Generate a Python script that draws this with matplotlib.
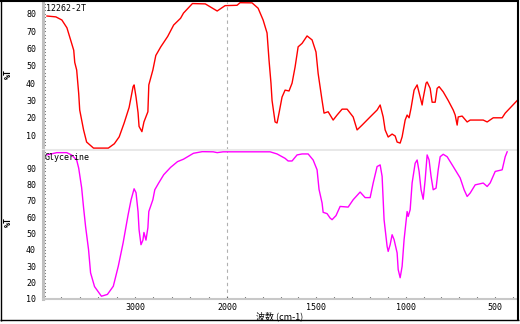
import numpy as np
import matplotlib
matplotlib.use("Agg")
import matplotlib.pyplot as plt
from matplotlib.lines import Line2D
from matplotlib.ticker import FixedLocator, MultipleLocator

# ---- data (wavenumber cm-1, %T) ----
top_label = "12262-2T"
top_wn = [3957, 3860, 3795, 3740, 3700, 3666, 3655, 3634, 3612, 3601, 3559, 3526, 3451, 3365,
          3290, 3225, 3172, 3118, 3064, 3021, 3010, 2989, 2967, 2956, 2925, 2903, 2860, 2850,
          2806, 2774, 2720, 2645, 2580, 2505, 2473, 2376, 2236, 2107, 2021, 1944, 1927, 1860,
          1826, 1798, 1776, 1765, 1754, 1748, 1731, 1720, 1709, 1692, 1675, 1653, 1636, 1619,
          1602, 1580, 1552, 1524, 1502, 1490, 1468, 1457, 1434, 1406, 1384, 1356, 1328, 1294,
          1272, 1244, 1199, 1160, 1143, 1126, 1115, 1098, 1076, 1059, 1048, 1031, 1020, 1003,
          992, 981, 970, 953, 936, 919, 908, 902, 886, 880, 863, 852, 835, 824, 813, 790, 762,
          734, 723, 712, 706, 684, 656, 639, 566, 544, 510, 460, 443, 376]
top_t = [78.8, 78.3, 76.5, 72.0, 65.0, 59.0, 52.0, 47.6, 34.0, 24.5, 13.0, 6.0, 2.5, 2.5,
         2.5, 5.0, 9.0, 17.0, 26.0, 38.0, 39.0, 32.0, 23.0, 15.0, 12.0, 17.6, 23.5, 39.0,
         47.6, 56.0, 61.0, 67.0, 73.6, 77.5, 80.5, 86.0, 85.8, 81.7, 84.8, 85.0, 86.5, 86.4,
         83.3, 76.5, 69.0, 53.4, 40.0, 30.0, 17.6, 17.0, 22.7, 32.0, 36.0, 35.5, 40.0, 49.4,
         61.0, 63.0, 67.3, 65.0, 58.0, 45.6, 30.0, 22.7, 23.5, 18.7, 21.6, 25.0, 25.0, 20.5,
         13.0, 15.8, 20.5, 24.5, 27.4, 20.5, 13.0, 8.9, 10.6, 9.5, 6.0, 5.4, 9.0, 18.7,
         21.6, 20.0, 25.6, 36.0, 39.0, 32.0, 27.4, 31.4, 40.0, 40.7, 37.0, 29.0, 29.0, 37.0,
         38.0, 35.0, 30.0, 24.5, 21.6, 15.8, 20.5, 21.0, 17.6, 18.7, 18.7, 17.6, 20.0, 20.0,
         22.7, 30.0]

bot_label = "Glycerine"
bot_wn = [3957, 3849, 3742, 3688, 3634, 3612, 3580, 3559, 3537, 3505, 3483, 3440, 3365, 3300,
          3236, 3182, 3129, 3075, 3043, 3010, 2989, 2967, 2956, 2935, 2914, 2903, 2881, 2860,
          2850, 2806, 2785, 2742, 2688, 2613, 2538, 2473, 2365, 2269, 2150, 2107, 2043, 1759,
          1720, 1675, 1658, 1636, 1608, 1580, 1546, 1518, 1496, 1485, 1468, 1462, 1440, 1423,
          1412, 1390, 1367, 1322, 1294, 1255, 1227, 1199, 1182, 1160, 1143, 1132, 1121, 1104,
          1098, 1087, 1076, 1065, 1048, 1042, 1031, 1020, 1009, 992, 986, 975, 964, 947, 936,
          925, 914, 902, 891, 880, 869, 858, 846, 830, 818, 807, 790, 768, 734, 695, 673, 656,
          639, 611, 566, 544, 527, 499, 460, 443, 432]
bot_t = [98.1, 99.5, 99.5, 98.0, 95.0, 90.0, 78.0, 65.8, 54.2, 40.2, 26.0, 17.6, 11.7, 12.8,
         17.8, 30.0, 44.4, 61.5, 70.6, 77.4, 75.0, 63.4, 52.4, 43.2, 46.0, 50.7, 46.0, 53.6,
         63.5, 70.7, 76.8, 81.0, 86.0, 90.5, 94.0, 95.5, 99.1, 100.1, 100.0, 99.5, 100.0, 100.0,
         98.7, 96.0, 94.4, 94.4, 98.1, 98.7, 98.7, 95.0, 89.0, 77.0, 68.7, 63.0, 62.2, 59.5,
         58.5, 61.0, 66.6, 66.2, 70.7, 75.4, 72.0, 72.0, 80.9, 91.0, 92.0, 85.0, 58.5, 42.2,
         39.1, 43.2, 49.3, 46.3, 38.2, 28.0, 23.0, 30.0, 46.3, 63.5, 60.5, 64.6, 81.0, 93.0, 95.0,
         88.0, 76.8, 71.0, 82.9, 98.1, 95.0, 85.0, 76.8, 77.8, 89.0, 97.0, 98.5, 97.0, 91.0, 84.0,
         76.8, 72.7, 74.8, 79.8, 80.9, 78.8, 81.0, 88.0, 89.0, 97.0, 100.0]

x_ticks = [3000, 2000, 1500, 1000, 500]
top_yticks = [10, 20, 30, 40, 50, 60, 70, 80]
bot_yticks = [10, 20, 30, 40, 50, 60, 70, 80, 90]
x_label = "波数 (cm-1)"
y_label = "%T"

# ---- split-scale wavenumber axis (4000-2000 compressed) ----
R = 0.515
def fwd(w):
    w = np.asarray(w, dtype=float)
    return np.where(w <= 2000, w, 2000 + (w - 2000) * R)
def inv(v):
    v = np.asarray(v, dtype=float)
    return np.where(v <= 2000, v, 2000 + (v - 2000) / R)

W, H = 520, 324
fig = plt.figure(figsize=(W / 100, H / 100), dpi=100)
fig.patch.set_facecolor("white")

def fx(px):
    return px / W
def fy(py):
    return 1 - py / H

L, Rr = 43, 517
ax1 = fig.add_axes([fx(L), fy(150), fx(Rr) - fx(L), fy(2) - fy(150)])
ax2 = fig.add_axes([fx(L), fy(299), fx(Rr) - fx(L), fy(151) - fy(299)])

mono = "DejaVu Sans Mono"
for ax in (ax1, ax2):
    ax.set_xscale("function", functions=(fwd, inv))
    ax.set_xlim(4000, 377)
    ax.spines["top"].set_visible(False)
    ax.spines["right"].set_visible(False)
    ax.spines["left"].set_color("#c0c0c0")
    ax.spines["left"].set_linewidth(2.2)
    ax.axvline(2000, color="#b0b0b0", lw=0.8, ls=(0, (3, 3)), zorder=1)
    ax.yaxis.set_minor_locator(MultipleLocator(2))
    ax.tick_params(axis="y", which="both", direction="in", length=1.5, width=0.8,
                   color="black", labelsize=6, pad=5)
    for lab in ax.get_yticklabels():
        lab.set_fontfamily(mono)

ax1.plot(top_wn, top_t, color="#ff0000", lw=1.0, zorder=3)
ax1.set_ylim(1.4, 86.9)
ax1.set_yticks(top_yticks)
ax1.spines["bottom"].set_color("#e8e8e8")
ax1.spines["bottom"].set_linewidth(2.2)
ax1.tick_params(axis="x", which="both", bottom=False, labelbottom=False)
ax1.text(0.006, 0.985, top_label, transform=ax1.transAxes, ha="left", va="top",
         fontsize=6, family=mono)

ax2.plot(bot_wn, bot_t, color="#ff00ff", lw=1.0, zorder=3)
ax2.set_ylim(10, 100.5)
ax2.set_yticks(bot_yticks)
ax2.spines["bottom"].set_color("#c8c8c8")
ax2.spines["bottom"].set_linewidth(1.5)
ax2.xaxis.set_major_locator(FixedLocator(x_ticks))
ax2.xaxis.set_minor_locator(FixedLocator(list(range(3800, 2000, -200)) + list(range(1900, 399, -100))))
ax2.tick_params(axis="x", which="both", direction="in", length=1.5, width=0.8,
                color="black", labelsize=6, pad=3)
ax2.set_xticklabels([str(v) for v in x_ticks], family=mono)
ax2.text(0.004, 0.985, bot_label, transform=ax2.transAxes, ha="left", va="top",
         fontsize=6, family=mono)

for ax in (ax1, ax2):
    for lab in ax.get_yticklabels():
        lab.set_fontfamily(mono)

# axis titles
fig.text(fx(280), fy(316), x_label, ha="center", va="center", fontsize=6.5,
         family=["Noto Sans CJK SC", "DejaVu Sans"])
fig.text(fx(8), fy(74), y_label, ha="center", va="center", rotation=90, fontsize=6,
         family=mono, weight="bold")
fig.text(fx(8), fy(222), y_label, ha="center", va="center", rotation=90, fontsize=6,
         family=mono, weight="bold")

# outer black frame
def fl(x0, y0, x1, y1, lw):
    fig.add_artist(Line2D([fx(x0), fx(x1)], [fy(y0), fy(y1)], color="black", lw=lw,
                          solid_capstyle="butt"))
fl(0, 1, 519, 1, 1.5)
fl(518, 0, 518, 321, 1.5)
fl(0, 320, 519, 320, 1.0)
fl(0.5, 0, 0.5, 321, 1.0)

fig.savefig("out.png", dpi=100)
